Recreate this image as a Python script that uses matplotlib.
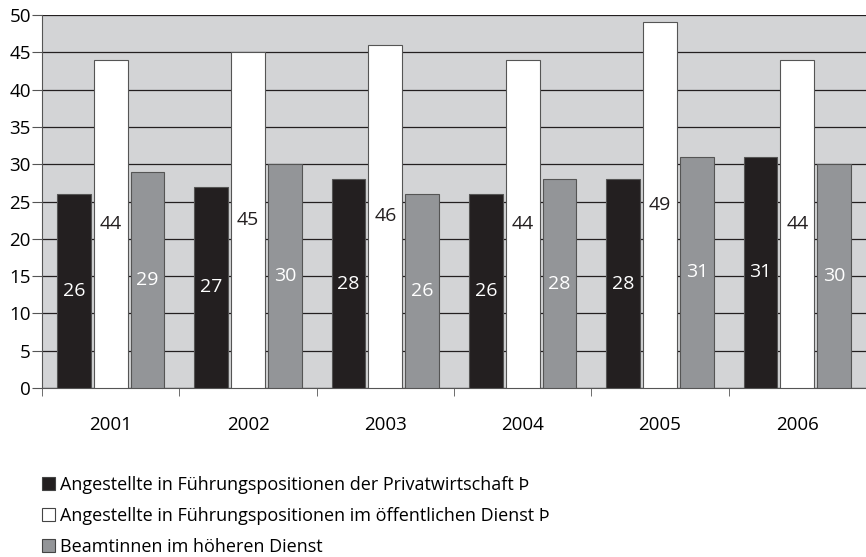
import numpy as np
import matplotlib.pyplot as plt
from matplotlib.patches import Patch

plt.rcParams['font.family'] = ['Open Sans', 'DejaVu Sans']

# Data
years = ['2001', '2002', '2003', '2004', '2005', '2006']
privat = [26, 27, 28, 26, 28, 31]
oeffentlich = [44, 45, 46, 44, 49, 44]
beamtinnen = [29, 30, 26, 28, 31, 30]
labels = ['Angestellte in Führungspositionen der Privatwirtschaft Þ',
          'Angestellte in Führungspositionen im öffentlichen Dienst Þ',
          'Beamtinnen im höheren Dienst']

colors = ['#231f20', '#ffffff', '#939598']
text_colors = ['white', '#231f20', 'white']

fig = plt.figure(figsize=(8.66, 5.57), dpi=100)
ax = fig.add_axes([0.0485, 0.3034, 0.9515, 0.6696])
ax.set_facecolor('#d3d4d6')

x = np.arange(len(years))
width = 0.246
step = 0.268
series = [privat, oeffentlich, beamtinnen]
for i, vals in enumerate(series):
    pos = x + (i - 1) * step
    ax.bar(pos, vals, width, color=colors[i], edgecolor='#555555', linewidth=0.8, zorder=3)
    for p, v in zip(pos, vals):
        ax.text(p, v / 2, str(v), ha='center', va='center', fontsize=14,
                color=text_colors[i], zorder=4)

ax.set_xlim(-0.5, len(years) - 0.5)
ax.set_ylim(0, 50)
ax.set_yticks(range(0, 51, 5))
ax.yaxis.grid(True, color='#231f20', linewidth=0.9, zorder=0)
ax.set_axisbelow(True)

ax.set_xticks(x)
ax.set_xticklabels(years)
ax.set_xticks(np.arange(-0.5, len(years), 1), minor=True)
ax.tick_params(axis='x', which='major', length=0, pad=20, labelsize=13.5)
ax.tick_params(axis='x', which='minor', length=6, color='#555555', direction='out')
ax.tick_params(axis='y', length=7, color='#555555', labelsize=13.5, pad=1)

for s in ['top', 'right']:
    ax.spines[s].set_visible(False)
ax.spines['left'].set_color('#555555')
ax.spines['bottom'].set_color('#555555')

handles = [Patch(facecolor=c, edgecolor='#444444', linewidth=0.8) for c in colors]
fig.legend(handles, labels, loc='upper left', bbox_to_anchor=(0.04, 0.158),
           bbox_transform=fig.transFigure, frameon=False, fontsize=13,
           handlelength=0.72, handleheight=0.72, handletextpad=0.3,
           labelspacing=0.72, borderaxespad=0)

fig.savefig('out.png', dpi=100)
